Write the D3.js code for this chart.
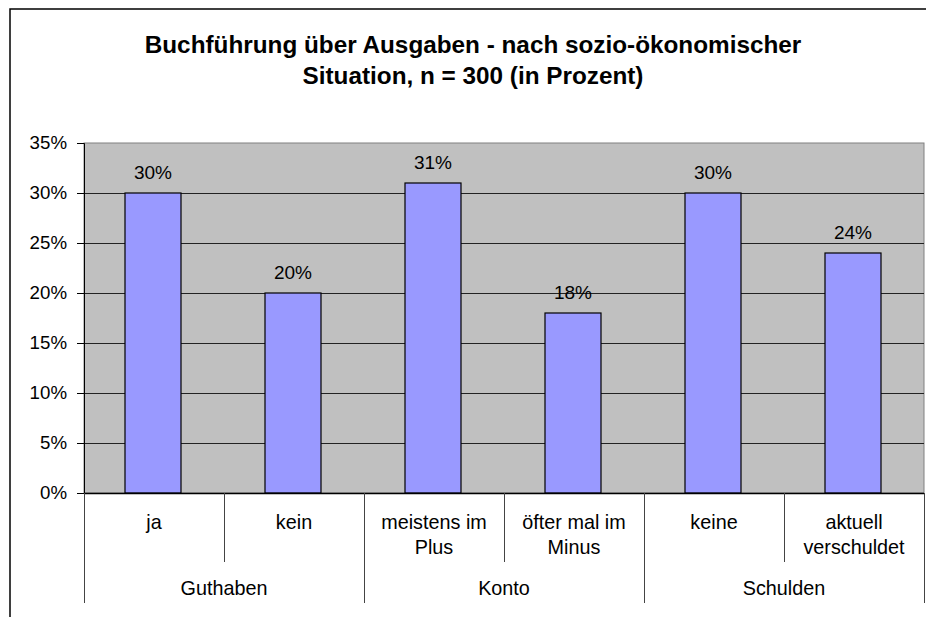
<!DOCTYPE html>
<html>
<head>
<meta charset="utf-8">
<script src="https://cdn.jsdelivr.net/npm/d3@7"></script>
<style>
  html, body { margin: 0; padding: 0; background: #fff; }
  svg { display: block; font-family: "Liberation Sans", Arial, sans-serif; }
</style>
</head>
<body>
<svg id="chart" width="926" height="617"></svg>
<script>
// Survey: bookkeeping of expenses by socio-economic situation (percent)
const titleLines = [
  "Buchführung über Ausgaben - nach sozio-ökonomischer",
  "Situation, n = 300 (in Prozent)"
];
const categories = ["ja", "kein", "meistens im Plus", "öfter mal im Minus", "keine", "aktuell verschuldet"];
const categoryLines = [["ja"], ["kein"], ["meistens im", "Plus"], ["öfter mal im", "Minus"], ["keine"], ["aktuell", "verschuldet"]];
const groups = ["Guthaben", "Konto", "Schulden"];
const groupOf = ["Guthaben", "Guthaben", "Konto", "Konto", "Schulden", "Schulden"];
const values = [30, 20, 31, 18, 30, 24];
const yTicks = [0, 5, 10, 15, 20, 25, 30, 35];

const svg = d3.select("#chart");
const plot = { left: 84, right: 924, top: 143, bottom: 493 };
const tickSize = 18.7;
const valueSize = 19;
const catSize = 19.8;

// Outer chart frame (runs past the visible window on right and bottom)
svg.append("rect")
  .attr("x", 10).attr("y", 9)
  .attr("width", 930).attr("height", 620)
  .attr("fill", "none").attr("stroke", "#000").attr("stroke-width", 1.5);

// Title
svg.append("g").selectAll("text").data(titleLines).join("text")
  .attr("x", 473)
  .attr("y", (d, i) => 53 + i * 31)
  .attr("text-anchor", "middle")
  .attr("font-size", 24.3)
  .attr("font-weight", "bold")
  .attr("fill", "#000")
  .text(d => d);

const x = d3.scaleBand().domain(categories).range([plot.left, plot.right]).paddingInner(0).paddingOuter(0);
const y = d3.scaleLinear().domain([0, 35]).range([plot.bottom, plot.top]);

// Plot background
svg.append("rect")
  .attr("x", plot.left).attr("y", plot.top)
  .attr("width", plot.right - plot.left).attr("height", plot.bottom - plot.top)
  .attr("fill", "#c0c0c0").attr("stroke", "#808080").attr("stroke-width", 1);

// Horizontal gridlines
svg.append("g").selectAll("line").data(yTicks.filter(t => t > 0 && t < 35)).join("line")
  .attr("x1", plot.left).attr("x2", plot.right)
  .attr("y1", d => Math.round(y(d)) + 0.5).attr("y2", d => Math.round(y(d)) + 0.5)
  .attr("stroke", "#222").attr("stroke-width", 1);

// Bars
const barW = x.bandwidth() / 2.5;
svg.append("g").selectAll("rect").data(values).join("rect")
  .attr("x", (d, i) => x(categories[i]) + (x.bandwidth() - barW) / 2 - 1)
  .attr("y", d => y(d))
  .attr("width", barW)
  .attr("height", d => y(0) - y(d))
  .attr("fill", "#9999ff")
  .attr("stroke", "#000").attr("stroke-width", 1.2);

// Value labels
svg.append("g").selectAll("text").data(values).join("text")
  .attr("x", (d, i) => x(categories[i]) + x.bandwidth() / 2 - 1)
  .attr("y", d => y(d) - 14)
  .attr("text-anchor", "middle")
  .attr("font-size", valueSize)
  .attr("fill", "#000")
  .text(d => d + "%");

// Y axis
const yAxis = d3.axisLeft(y).tickValues(yTicks).tickSize(7).tickPadding(10).tickFormat(d => d + "%");
const gy = svg.append("g").attr("transform", `translate(${plot.left},0)`).call(yAxis);
gy.select(".domain").attr("stroke", "#000");
gy.selectAll(".tick line").attr("stroke", "#000");
gy.selectAll(".tick text").attr("font-size", tickSize).attr("font-family", "Liberation Sans, Arial, sans-serif").attr("fill", "#000");

// X axis line
svg.append("line")
  .attr("x1", plot.left).attr("x2", plot.right)
  .attr("y1", plot.bottom + 0.5).attr("y2", plot.bottom + 0.5)
  .attr("stroke", "#000").attr("stroke-width", 1.5);

// Category dividers: short within a group, long between groups
const boundaries = d3.range(categories.length + 1).map(i => ({
  x: i < categories.length ? x(categories[i]) : plot.right,
  groupEdge: i === 0 || i === categories.length || groupOf[i] !== groupOf[i - 1]
}));
svg.append("g").selectAll("line").data(boundaries).join("line")
  .attr("x1", d => Math.round(d.x) + 0.5).attr("x2", d => Math.round(d.x) + 0.5)
  .attr("y1", plot.bottom)
  .attr("y2", d => d.groupEdge ? 603 : 562)
  .attr("stroke", "#444").attr("stroke-width", 1);

// Category labels
const catG = svg.append("g");
categoryLines.forEach((lines, i) => {
  catG.append("text")
    .attr("x", x(categories[i]) + x.bandwidth() / 2)
    .attr("text-anchor", "middle")
    .attr("font-size", catSize)
    .attr("fill", "#000")
    .selectAll("tspan").data(lines).join("tspan")
    .attr("x", x(categories[i]) + x.bandwidth() / 2)
    .attr("y", (d, j) => 529 + j * 25)
    .text(d => d);
});

// Group labels
svg.append("g").selectAll("text").data(groups).join("text")
  .attr("x", g => {
    const members = categories.filter((c, i) => groupOf[i] === g);
    return (x(members[0]) + x(members[members.length - 1]) + x.bandwidth()) / 2;
  })
  .attr("y", 595)
  .attr("text-anchor", "middle")
  .attr("font-size", catSize)
  .attr("fill", "#000")
  .text(d => d);
</script>
</body>
</html>
